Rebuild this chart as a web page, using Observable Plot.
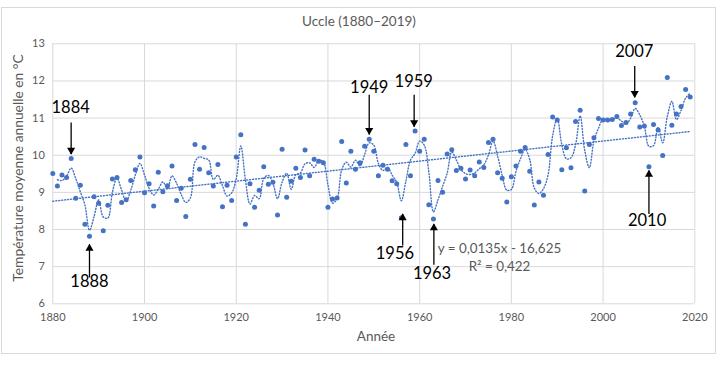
<!DOCTYPE html>
<html><head><meta charset="utf-8">
<script src="https://cdn.jsdelivr.net/npm/d3@7"></script>
<script src="https://cdn.jsdelivr.net/npm/@observablehq/plot@0.6"></script>
<style>
body{margin:0;background:#fff;font-family:Lato,"Open Sans",sans-serif}
#wrap{position:relative;width:719px;height:367px;overflow:hidden;background:#fff}
#frame{position:absolute;left:1px;top:7px;width:715px;height:347px;border:1px solid #d9d9d9;box-sizing:border-box}
.t{position:absolute;color:#595959;white-space:nowrap;line-height:1}
#title{left:359px;top:22px;transform:translate(-50%,-50%);font-size:13.5px}
#xlab{left:376px;top:337px;transform:translate(-50%,-50%);font-size:13.5px}
#ylab{left:18px;top:168px;transform:translate(-50%,-50%) rotate(-90deg);font-size:13.8px}
#chart{position:absolute;left:0;top:0}
</style></head>
<body>
<div id="wrap">
<div id="frame"></div>
<div id="chart"></div>
<div class="t" id="title">Uccle (1880–2019)</div>
<div class="t" id="xlab">Année</div>
<div class="t" id="ylab">Température moyenne annuelle en °C</div>
</div>
<script>
const years = d3.range(1880, 2020);
const temps = [
9.51,9.17,9.47,9.40,9.91,8.84,9.19,8.14,7.82,8.88,
8.71,7.97,8.65,9.36,9.40,8.73,8.80,9.32,9.61,9.95,
8.99,9.23,8.63,9.54,9.02,9.18,9.71,8.78,9.11,8.35,
9.35,10.29,9.62,10.21,9.53,9.17,9.75,8.61,9.19,8.78,
9.95,10.55,8.14,9.23,8.60,9.06,9.69,9.22,9.27,8.39,
10.16,8.87,9.30,9.65,9.40,10.14,9.45,9.89,9.84,9.80,
8.60,8.82,8.85,10.37,9.25,10.11,9.62,9.80,10.24,10.43,
10.11,9.45,9.73,9.62,9.31,9.23,8.32,10.29,9.45,10.65,
10.11,10.43,8.67,8.28,9.32,9.00,10.03,10.15,9.59,9.65,
9.36,9.60,9.45,9.82,9.67,10.34,10.43,9.53,9.38,8.74,
9.42,9.71,10.11,10.21,9.57,8.66,9.28,8.92,10.02,11.03,
10.95,9.61,10.20,9.66,10.91,11.21,9.04,10.29,10.47,10.99,
10.95,10.95,10.96,11.04,10.80,10.88,11.11,11.41,10.76,10.79,
9.69,10.83,10.68,9.99,12.09,10.81,11.11,11.31,11.77,11.57];
const xTicks = [1880,1900,1920,1940,1960,1980,2000,2020];
const yTicks = [6,7,8,9,10,11,12,13];

// annotation labels (year / value positions in data units)
const labelText  = ["1884","1888","1949","1956","1959","1963","2007","2010"];
const labelYear  = [1883.9,1888.0,1949.0,1954.6,1958.7,1962.7,2006.8,2009.6];
const labelValue = [11.29,6.60,11.82,7.35,11.99,6.81,12.80,8.24];
const arrowYear  = [1884,1888,1949,1956.3,1958.8,1963.1,2006.9,2010];
const arrowFrom  = [10.88,6.71,11.63,7.57,11.63,7.05,12.40,8.42];
const arrowTo    = [10.03,7.60,10.56,8.42,10.77,8.15,11.56,9.59];
const eqText  = ["y = 0,0135x - 16,625","R² = 0,422"];
const eqYear  = [1977.4,1977.4];
const eqValue = [7.48,7.0];

const data = years.map((y,i)=>({year:y, temp:temps[i]}));
const labels = labelText.map((t,i)=>({t, x:labelYear[i], y:labelValue[i]}));
const arrows = arrowYear.map((x,i)=>({x, from:arrowFrom[i], to:arrowTo[i]}));
const eq = eqText.map((t,i)=>({t, x:eqYear[i], y:eqValue[i]}));
const blue = "#4472C4";

const plot = Plot.plot({
  width: 719, height: 367,
  marginLeft: 52.3, marginRight: 24.7, marginTop: 43.3, marginBottom: 63.7,
  style: {fontFamily: "Lato, 'Open Sans', sans-serif", background: "transparent"},
  x: {domain: [1880, 2020], ticks: xTicks, tickFormat: d => String(d), label: null},
  y: {domain: [6, 13], ticks: yTicks, tickFormat: d => String(d), label: null},
  marks: [
    Plot.gridX(xTicks, {stroke: "#d9d9d9", strokeOpacity: 1}),
    Plot.gridY(yTicks, {stroke: "#d9d9d9", strokeOpacity: 1}),
    Plot.axisX({ticks: xTicks, tickSize: 0, tickPadding: 9, fontSize: 11, fill: "#595959", label: null, tickFormat: d => String(d)}),
    Plot.axisY({ticks: yTicks, tickSize: 0, tickPadding: 8, fontSize: 11, fill: "#595959", label: null, tickFormat: d => String(d)}),
    Plot.linearRegressionY(data, {x: "year", y: "temp", ci: 0, stroke: blue, strokeWidth: 1.4, strokeDasharray: "1,2", strokeLinecap: "round"}),
    Plot.lineY(data, Plot.windowY({k: 2, anchor: "end", strict: true}, {x: "year", y: "temp", curve: "catmull-rom", stroke: blue, strokeWidth: 1.4, strokeDasharray: "1,2", strokeLinecap: "round"})),
    Plot.dot(data, {x: "year", y: "temp", r: 2.5, fill: blue, stroke: "none"}),
    Plot.link(arrows, {x1: "x", x2: "x", y1: "from", y2: "to", stroke: "black", strokeWidth: 1.3}),
    Plot.dot(arrows.filter(d => d.to < d.from), {x: "x", y: "to", symbol: "triangle", r: 3, fill: "black", rotate: 180, dy: -4}),
    Plot.dot(arrows.filter(d => d.to > d.from), {x: "x", y: "to", symbol: "triangle", r: 3, fill: "black", dy: 4}),
    Plot.text(labels, {x: "x", y: "y", text: "t", fontSize: 16.5, fill: "black"}),
    Plot.text(eq, {x: "x", y: "y", text: "t", fontSize: 13.4, fill: "#595959"})
  ]
});
document.getElementById("chart").appendChild(plot);
</script>
</body></html>
